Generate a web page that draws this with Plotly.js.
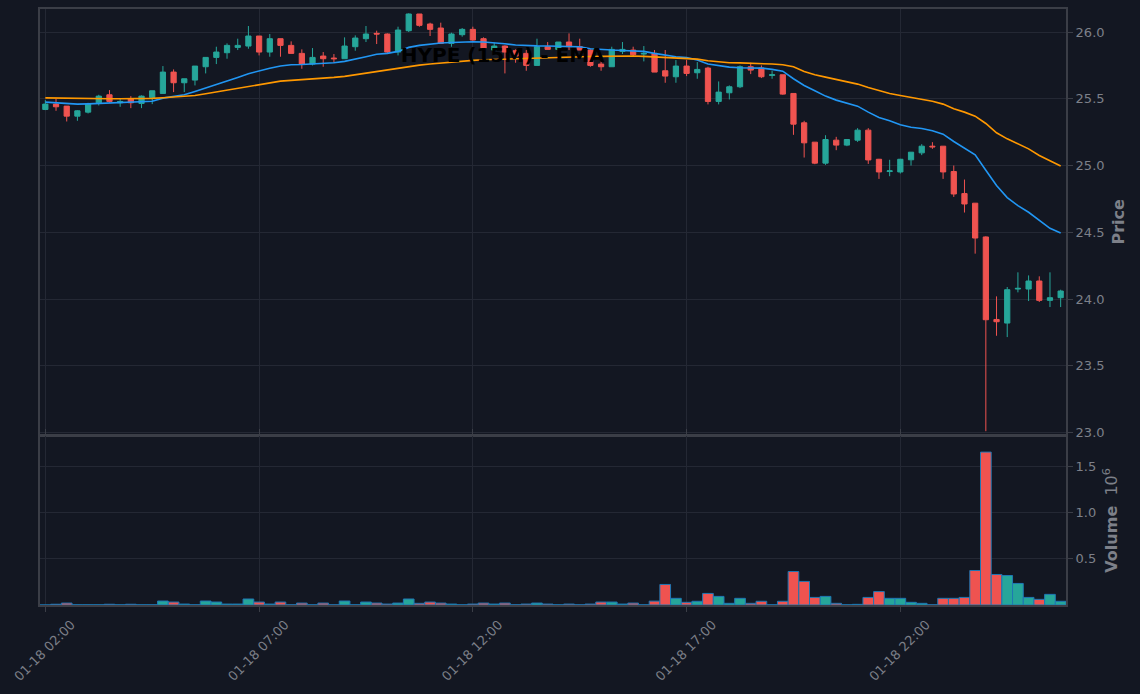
<!DOCTYPE html>
<html><head><meta charset="utf-8">
<script src="https://cdn.plot.ly/plotly-3.0.1.min.js"></script>
<style>html,body{margin:0;padding:0;background:#131722}</style></head>
<body><div id="chart" style="width:1140px;height:694px"></div>
<script>
// 15-minute candles starting 2025-01-18 02:00
const startTime = [2025, 0, 18, 2, 0];
const stepMinutes = 15;

const openP = [25.42,25.46,25.445,25.37,25.40,25.47,25.53,25.47,25.50,25.465,25.51,25.54,25.70,25.62,25.64,25.74,25.81,25.845,25.885,25.895,
25.97,25.85,25.95,25.90,25.84,25.76,25.82,25.805,25.80,25.89,25.95,25.99,25.985,25.85,26.01,26.135,26.06,26.03,25.915,25.98,
26.02,25.95,25.865,25.895,25.86,25.84,25.75,25.89,25.87,25.925,25.89,25.865,25.76,25.74,25.855,25.865,25.835,25.84,25.71,25.665,
25.745,25.695,25.73,25.48,25.545,25.59,25.74,25.73,25.675,25.68,25.54,25.32,25.175,25.018,25.19,25.153,25.19,25.265,25.047,24.955,
24.952,25.043,25.095,25.145,25.145,24.955,24.79,24.718,24.465,23.847,23.82,24.075,24.075,24.135,23.99,24.01];
const highP = [25.49,25.50,25.445,25.415,25.47,25.53,25.565,25.50,25.52,25.525,25.56,25.745,25.72,25.65,25.745,25.81,25.89,25.915,25.95,26.045,
25.97,25.985,25.95,25.93,25.87,25.88,25.85,25.835,25.96,25.975,26.045,26.01,25.99,26.04,26.14,26.135,26.07,26.07,25.995,26.03,
26.04,25.96,25.92,25.90,25.87,25.865,25.95,25.925,25.925,25.99,25.95,25.87,25.78,25.89,25.925,25.89,25.895,25.865,25.865,25.79,
25.79,25.775,25.74,25.63,25.60,25.75,25.77,25.75,25.71,25.68,25.54,25.335,25.175,25.227,25.215,25.195,25.28,25.28,25.05,25.043,
25.05,25.10,25.16,25.175,25.145,25.0,24.895,24.718,24.47,24.02,24.09,24.20,24.177,24.17,24.20,24.07];
const lowP = [25.415,25.41,25.33,25.335,25.39,25.45,25.47,25.44,25.43,25.43,25.46,25.54,25.55,25.55,25.60,25.69,25.76,25.80,25.865,25.875,
25.825,25.815,25.815,25.84,25.725,25.75,25.74,25.77,25.80,25.86,25.925,25.91,25.84,25.825,26.0,26.04,25.97,25.915,25.89,25.965,
25.935,25.84,25.84,25.69,25.77,25.71,25.75,25.87,25.86,25.865,25.865,25.74,25.71,25.74,25.835,25.82,25.78,25.70,25.62,25.62,
25.67,25.65,25.458,25.458,25.495,25.58,25.685,25.655,25.65,25.53,25.23,25.06,25.01,25.005,25.115,25.145,25.177,25.012,24.90,24.92,
24.94,25.0,25.078,25.125,24.90,24.765,24.648,24.34,23.01,23.725,23.715,24.05,23.985,23.978,23.94,23.94];
const closeP = [25.46,25.44,25.37,25.41,25.46,25.52,25.48,25.48,25.47,25.52,25.56,25.70,25.62,25.65,25.745,25.81,25.85,25.90,25.90,25.97,
25.85,25.95,25.90,25.84,25.76,25.81,25.80,25.80,25.895,25.955,25.985,25.985,25.85,26.015,26.135,26.05,26.02,25.915,25.985,26.02,
25.94,25.88,25.895,25.85,25.82,25.75,25.89,25.87,25.925,25.89,25.865,25.75,25.74,25.87,25.87,25.83,25.84,25.70,25.67,25.745,
25.69,25.72,25.48,25.55,25.59,25.74,25.715,25.665,25.68,25.535,25.31,25.17,25.018,25.195,25.153,25.195,25.265,25.042,24.952,24.96,
25.047,25.10,25.145,25.14,24.952,24.787,24.712,24.457,23.845,23.83,24.07,24.08,24.135,23.99,24.01,24.06];
const volume = [0,8000,21000,2000,2000,2000,8000,2000,8000,2000,2000,43000,32000,10000,2000,43000,32000,10000,10000,65000,
32000,10000,32000,2000,21000,2000,21000,2000,43000,2000,32000,21000,10000,21000,65000,18000,32000,21000,10000,2000,
10000,21000,10000,21000,2000,10000,21000,10000,2000,10000,2000,10000,32000,32000,10000,21000,2000,42000,222000,72000,
29000,40000,125000,93000,18000,72000,18000,40000,2000,40000,362000,255000,82000,93000,18000,2000,7000,82000,145000,72000,
72000,29000,18000,2000,72000,72000,82000,373000,1653000,330000,319000,233000,82000,61000,115000,40000];
const emaFast = [25.475,25.47,25.463,25.46,25.462,25.465,25.468,25.47,25.475,25.478,25.482,25.505,25.515,25.53,25.555,25.58,25.605,25.635,25.66,25.688,
25.71,25.728,25.745,25.755,25.757,25.76,25.763,25.77,25.78,25.795,25.815,25.833,25.84,25.855,25.885,25.9,25.91,25.918,25.922,25.927,
25.927,25.925,25.92,25.912,25.903,25.897,25.896,25.895,25.895,25.893,25.89,25.875,25.868,25.865,25.862,25.86,25.855,25.84,25.825,25.815,
25.808,25.79,25.76,25.75,25.737,25.733,25.732,25.73,25.72,25.707,25.65,25.6,25.56,25.52,25.49,25.465,25.445,25.4,25.36,25.335,
25.305,25.287,25.278,25.26,25.235,25.18,25.13,25.08,24.965,24.85,24.76,24.7,24.65,24.59,24.53,24.495];
const emaSlow = [25.507,25.505,25.503,25.501,25.50,25.50,25.50,25.50,25.50,25.50,25.503,25.508,25.512,25.516,25.525,25.538,25.552,25.565,25.578,25.59,
25.605,25.62,25.632,25.638,25.643,25.647,25.652,25.66,25.668,25.68,25.693,25.705,25.715,25.73,25.742,25.752,25.76,25.768,25.775,25.782,
25.788,25.792,25.795,25.797,25.80,25.802,25.805,25.808,25.81,25.812,25.815,25.817,25.818,25.82,25.82,25.82,25.818,25.814,25.81,25.806,
25.802,25.797,25.785,25.775,25.77,25.769,25.767,25.764,25.76,25.755,25.74,25.705,25.68,25.662,25.645,25.63,25.61,25.585,25.56,25.54,
25.525,25.512,25.497,25.482,25.46,25.425,25.40,25.37,25.315,25.245,25.20,25.16,25.125,25.075,25.035,24.997];
const priceTicks = [23.0,23.5,24.0,24.5,25.0,25.5,26.0];
const volTickVals = [500000,1000000,1500000];
const volTickText = ['0.5','1.0','1.5'];

function pad(n){return (n<10?'0':'')+n;}
function fmt(d){return d.getUTCFullYear()+'-'+pad(d.getUTCMonth()+1)+'-'+pad(d.getUTCDate())+' '+pad(d.getUTCHours())+':'+pad(d.getUTCMinutes())+':'+pad(d.getUTCSeconds());}
const t0 = Date.UTC(startTime[0],startTime[1],startTime[2],startTime[3],startTime[4]);
const stepMs = stepMinutes*60000;
const times = openP.map((_,i)=>fmt(new Date(t0+i*stepMs)));
const xStart = fmt(new Date(t0-stepMs/2));
const xEnd = fmt(new Date(t0+(openP.length-0.5)*stepMs));

const UP='#26a69a', DOWN='#ef5350';
const volColors = closeP.map((c,i)=> c>=openP[i]?UP:DOWN);

const gridC='#242834', lineC='#3b3e47', txtC='#7d8089';

const traces = [
  {type:'candlestick', x:times, open:openP, high:highP, low:lowP, close:closeP, xaxis:'x', yaxis:'y',
   increasing:{line:{color:UP,width:1}, fillcolor:UP}, decreasing:{line:{color:DOWN,width:1}, fillcolor:DOWN},
   whiskerwidth:0, name:'HYPE'},
  {type:'scatter', mode:'lines', x:times, y:emaFast, line:{color:'#2196f3', width:1.6}, xaxis:'x', yaxis:'y', name:'EMA fast'},
  {type:'scatter', mode:'lines', x:times, y:emaSlow, line:{color:'#ff9800', width:1.6}, xaxis:'x', yaxis:'y', name:'EMA slow'},
  {type:'bar', x:times, y:volume, xaxis:'x', yaxis:'y2', marker:{color:volColors, line:{color:'#1f77b4', width:1}}, name:'Volume'}
];

const layout = {
  width:1140, height:694,
  paper_bgcolor:'#131722', plot_bgcolor:'#131722',
  margin:{l:40, r:74, t:9, b:89},
  font:{family:'DejaVu Sans', color:txtC, size:13},
  showlegend:false, bargap:0,
  title:{text:'<b>HYPE (15M) - EMA</b>', font:{family:'DejaVu Sans', size:20, color:'#000000'},
         x:0.451, xref:'paper', xanchor:'center', y:1-55/694, yref:'container', yanchor:'middle'},
  xaxis:{type:'date', anchor:'y2', range:[xStart,xEnd], tick0:fmt(new Date(t0)), dtick:5*3600000,
         tickformat:'%m-%d %H:%M', tickangle:-45, ticklabelshift:26, ticklabeloverflow:'allow',
         showgrid:true, gridcolor:gridC, gridwidth:1,
         showline:true, linecolor:lineC, linewidth:2, mirror:'all', ticks:'outside', ticklen:5, tickcolor:lineC,
         rangeslider:{visible:false}, zeroline:false, tickfont:{size:13,color:txtC}},
  yaxis:{domain:[0.286,1], side:'right', range:[22.985,26.1725], tickvals:priceTicks, tickformat:'.1f',
         showgrid:true, gridcolor:gridC, showline:true, linecolor:lineC, linewidth:2, mirror:true,
         ticks:'outside', ticklen:5, tickcolor:lineC, zeroline:false, tickfont:{size:13,color:txtC},
         title:{text:'<b>Price</b>', font:{size:16,color:txtC}, standoff:9}},
  yaxis2:{domain:[0,0.284], side:'right', range:[0,1830000], tickvals:volTickVals, ticktext:volTickText,
         showgrid:true, gridcolor:gridC, showline:true, linecolor:lineC, linewidth:2, mirror:true,
         ticks:'outside', ticklen:5, tickcolor:lineC, zeroline:false, tickfont:{size:13,color:txtC},
         title:{text:'<b>Volume</b>  10<sup>6</sup>', font:{size:16,color:txtC}}}
};

Plotly.newPlot('chart', traces, layout, {displayModeBar:false, staticPlot:true});
</script>
</body></html>
